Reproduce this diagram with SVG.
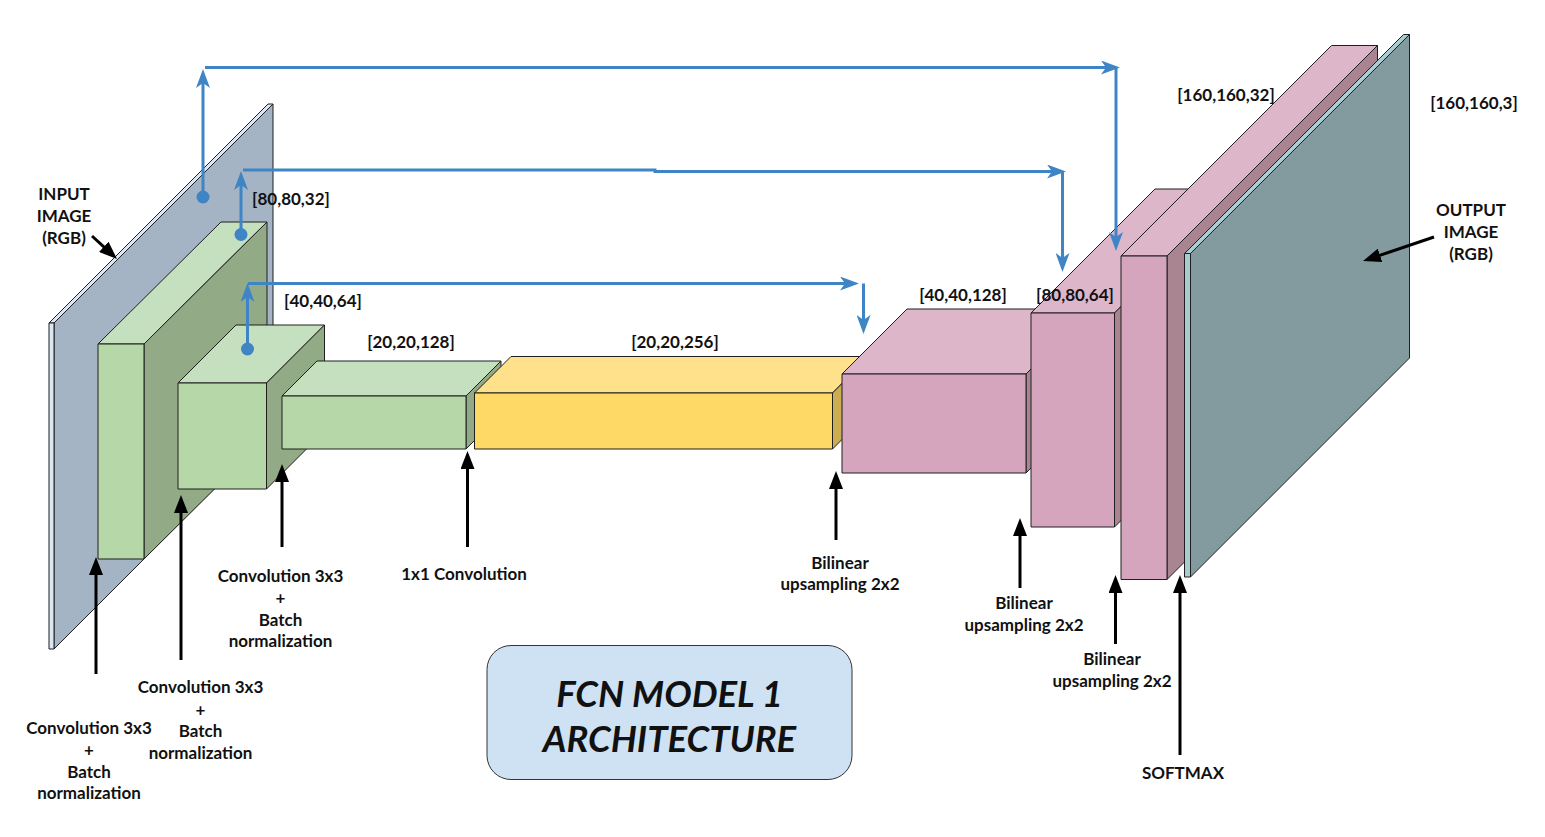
<svg xmlns="http://www.w3.org/2000/svg" width="1545" height="837" viewBox="0 0 1545 837">
<defs>
<style>
.blk{stroke:#1f1f1f;stroke-width:1;stroke-linejoin:round}
.g-front{fill:#B6D7A8}.g-top{fill:#C5E0BE}.g-side{fill:#93AA86}
.y-front{fill:#FFD966}.y-top{fill:#FFE08B}.y-side{fill:#CCAD52}
.p-front{fill:#D5A5BE}.p-top{fill:#DDB7C9}.p-side{fill:#A98592}
.in-side{fill:#A5B4C4}.in-edge{fill:#DAE8F6}
.out-side{fill:#839B9F}.out-edge{fill:#A9CCD0}
.skip{fill:none;stroke:#3F85C6;stroke-width:3;marker-end:url(#blueArrow)}
.dot{fill:#3F85C6}
.op{fill:none;stroke:#000;stroke-width:3;marker-end:url(#blackArrow)}
.lbl{font-family:Lato,"Liberation Sans",sans-serif;font-weight:bold;font-size:17px;fill:#111;text-anchor:middle}
.title{font-family:Lato,"Liberation Sans",sans-serif;font-weight:bold;font-style:italic;font-size:36.5px;fill:#111;text-anchor:middle}
</style>
<marker id="blueArrow" markerUnits="userSpaceOnUse" markerWidth="19" markerHeight="14" viewBox="0 0 19 14" refX="7" refY="7" orient="auto">
<path d="M0,0 L19,7 L0,14 L5,7 Z" fill="#3F85C6"/>
</marker>
<marker id="blackArrow" markerUnits="userSpaceOnUse" markerWidth="18" markerHeight="14" viewBox="0 0 18 14" refX="6" refY="7" orient="auto">
<path d="M0,0 L18,7 L0,14 Z" fill="#000"/>
</marker>
</defs>
<rect x="0" y="0" width="1545" height="837" fill="#fff"/>

<g id="input-image" class="blk">
<polygon class="in-side" points="54,323 273,104 273,430 54,649"/>
<polygon class="in-edge" points="49,323 54,323 273,104 268,104"/>
<rect class="in-edge" x="49" y="323" width="5" height="326"/>
</g>

<g id="conv1" class="blk">
<polygon class="g-top" points="98,344 144,344 267,222 221,222"/>
<polygon class="g-side" points="144,344 267,222 267,437 144,559"/>
<rect class="g-front" x="98" y="344" width="46" height="215"/>
</g>

<g id="conv2" class="blk">
<polygon class="g-top" points="178,383 266.5,383 324.5,325 236,325"/>
<polygon class="g-side" points="266.5,383 324.5,325 324.5,431 266.5,489"/>
<rect class="g-front" x="178" y="383" width="88.5" height="106"/>
</g>

<g id="conv3" class="blk">
<polygon class="g-top" points="282,396 466,396 501,361 317,361"/>
<polygon class="g-side" points="466,396 501,361 501,414 466,449"/>
<rect class="g-front" x="282" y="396" width="184" height="53"/>
</g>

<g id="conv1x1" class="blk">
<polygon class="y-top" points="474.5,393 832.5,393 869,356.5 511,356.5"/>
<polygon class="y-side" points="832.5,393 869,356.5 869,412.5 832.5,449"/>
<rect class="y-front" x="474.5" y="393" width="358" height="56"/>
</g>

<g id="up1" class="blk">
<polygon class="p-top" points="842,374 1026,374 1091,309 907,309"/>
<polygon class="p-side" points="1026,374 1091,309 1091,408 1026,473"/>
<rect class="p-front" x="842" y="374" width="184" height="99"/>
</g>

<g id="up2" class="blk">
<polygon class="p-top" points="1031,313 1114.5,313 1238.5,189 1155,189"/>
<polygon class="p-side" points="1114.5,313 1238.5,189 1238.5,403 1114.5,527"/>
<rect class="p-front" x="1031" y="313" width="83.5" height="214"/>
</g>

<g id="up3" class="blk">
<polygon class="p-top" points="1121,256 1167,256 1377.5,45.5 1331.5,45.5"/>
<polygon class="p-side" points="1167,256 1377.5,45.5 1377.5,369 1167,579.5"/>
<rect class="p-front" x="1121" y="256" width="46" height="323.5"/>
</g>

<g id="output-image" class="blk">
<polygon class="out-side" points="1190.5,253.5 1409.5,34.5 1409.5,358 1190.5,577"/>
<polygon class="out-edge" points="1184.5,253.5 1190.5,253.5 1409.5,34.5 1403.5,34.5"/>
<rect class="out-edge" x="1184.5" y="253.5" width="6" height="323.5"/>
</g>

<g id="connectors">
<path class="skip" d="M203,197 V81"/>
<path class="skip" d="M205,67.5 H1108"/>
<path class="skip" d="M1116,68 V239"/>
<circle class="dot" cx="203" cy="197" r="6.5"/>

<path class="skip" d="M241,234.5 V183"/>
<path class="skip" d="M243,170 H655 V171.5 H1054"/>
<path class="skip" d="M1062.5,171.5 V260"/>
<circle class="dot" cx="241" cy="234.5" r="6.5"/>

<path class="skip" d="M247.5,349 V295"/>
<path class="skip" d="M248,283.5 H847"/>
<path class="skip" d="M863.5,283.5 V322"/>
<circle class="dot" cx="247.5" cy="349" r="6.5"/>

<path class="op" d="M96,674 V569"/>
<path class="op" d="M181,660 V507"/>
<path class="op" d="M282,547 V476"/>
<path class="op" d="M467.5,547 V463"/>
<path class="op" d="M836,540 V483"/>
<path class="op" d="M1020,588 V530"/>
<path class="op" d="M1115.5,644 V587"/>
<path class="op" d="M1180,755 V587"/>
<path class="op" d="M92,236 L108.2,250.9"/>
<path class="op" d="M1434,237 L1374.4,257.2"/>
</g>

<g id="labels">
<text class="lbl" x="64" y="200">INPUT</text>
<text class="lbl" x="64" y="222">IMAGE</text>
<text class="lbl" x="64" y="244">(RGB)</text>
<text class="lbl" x="291" y="205">[80,80,32]</text>
<text class="lbl" x="323" y="307">[40,40,64]</text>
<text class="lbl" x="411" y="348">[20,20,128]</text>
<text class="lbl" x="675" y="348">[20,20,256]</text>
<text class="lbl" x="963" y="301">[40,40,128]</text>
<text class="lbl" x="1075" y="301">[80,80,64]</text>
<text class="lbl" x="1226" y="101">[160,160,32]</text>
<text class="lbl" x="1474" y="109">[160,160,3]</text>
<text class="lbl" x="1471" y="216">OUTPUT</text>
<text class="lbl" x="1471" y="238">IMAGE</text>
<text class="lbl" x="1471" y="260">(RGB)</text>

<text class="lbl" x="89" y="734">Convolution 3x3</text>
<text class="lbl" x="89" y="756">+</text>
<text class="lbl" x="89" y="778">Batch</text>
<text class="lbl" x="89" y="799">normalization</text>

<text class="lbl" x="200.5" y="693">Convolution 3x3</text>
<text class="lbl" x="200.5" y="716">+</text>
<text class="lbl" x="200.5" y="737">Batch</text>
<text class="lbl" x="200.5" y="759">normalization</text>

<text class="lbl" x="280.5" y="582">Convolution 3x3</text>
<text class="lbl" x="280.5" y="604">+</text>
<text class="lbl" x="280.5" y="626">Batch</text>
<text class="lbl" x="280.5" y="647">normalization</text>

<text class="lbl" x="464" y="580">1x1 Convolution</text>
<text class="lbl" x="840" y="569">Bilinear</text>
<text class="lbl" x="840" y="590">upsampling 2x2</text>
<text class="lbl" x="1024" y="609">Bilinear</text>
<text class="lbl" x="1024" y="631">upsampling 2x2</text>
<text class="lbl" x="1112" y="665">Bilinear</text>
<text class="lbl" x="1112" y="687">upsampling 2x2</text>
<text class="lbl" x="1183" y="779">SOFTMAX</text>
</g>

<g id="title">
<rect x="487" y="645.5" width="365" height="134" rx="24" fill="#CFE2F3" stroke="#333" stroke-width="1"/>
<text class="title" x="669.5" y="707">FCN MODEL 1</text>
<text class="title" x="669.5" y="752">ARCHITECTURE</text>
</g>
</svg>
